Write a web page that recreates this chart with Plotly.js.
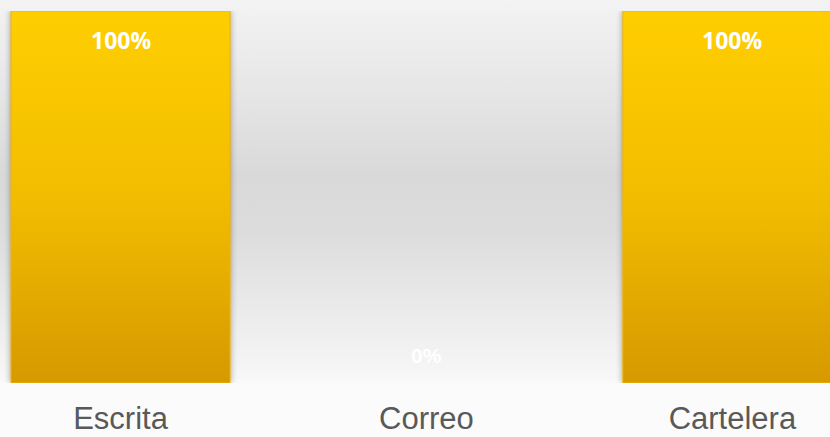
<!DOCTYPE html>
<html>
<head>
<meta charset="utf-8">
<script src="https://cdn.plot.ly/plotly-3.0.1.min.js"></script>
<style>
  html, body { margin: 0; padding: 0; }
  body {
    width: 830px; height: 437px; overflow: hidden;
    background: linear-gradient(to bottom, #f3f3f3 0px, #ebebeb 60px, #d9d9d9 175px, #dcdcdc 230px, #f7f7f7 378px, #fbfbfb 384px, #fbfbfb 437px);
  }
  #chart { width: 830px; height: 437px; }
</style>
</head>
<body>
<div id="chart"></div>
<script>
const categories = ["Escrita", "Correo", "Cartelera"];
const values = [100, 0, 100];
const valueLabels = ["100%", "0%", "100%"];

const trace = {
  type: "bar",
  x: categories,
  y: values,
  width: 0.716,
  marker: {
    color: "#f0b800",
    line: { color: "#f5b400", width: values.map(v => (v > 0 ? 1 : 0)) }
  },
  hoverinfo: "none"
};

const annotations = categories.map((c, i) => {
  const positive = values[i] > 0;
  return {
    x: c, y: values[i], xref: "x", yref: "y",
    text: "<b>" + valueLabels[i] + "</b>",
    showarrow: false,
    yshift: positive ? -29 : 28,
    font: positive
      ? { family: "Open Sans, sans-serif", size: 23, color: "#ffffff" }
      : { family: "Liberation Sans, Arial, sans-serif", size: 21, color: "#ffffff" }
  };
});

const layout = {
  width: 830, height: 437,
  margin: { l: 0, r: 0, t: 11, b: 54, pad: 0 },
  paper_bgcolor: "rgba(0,0,0,0)",
  plot_bgcolor: "rgba(0,0,0,0)",
  showlegend: false,
  xaxis: {
    type: "category",
    categoryorder: "array", categoryarray: categories,
    range: [-0.394, 2.319],
    showgrid: false, zeroline: false, showline: false, ticks: "",
    tickfont: { family: "Liberation Sans, Arial, sans-serif", size: 31, color: "#595959" },
    ticklabelstandoff: 14
  },
  yaxis: { range: [0, 100], visible: false, showgrid: false, zeroline: false },
  annotations: annotations
};

Plotly.newPlot("chart", [trace], layout, { staticPlot: true, displayModeBar: false }).then(gd => {
  const svg = gd.querySelector("svg.main-svg");
  const ns = "http://www.w3.org/2000/svg";
  let defs = svg.querySelector("defs");
  if (!defs) { defs = document.createElementNS(ns, "defs"); svg.insertBefore(defs, svg.firstChild); }
  const grad = document.createElementNS(ns, "linearGradient");
  grad.setAttribute("id", "barGrad");
  grad.setAttribute("x1", "0"); grad.setAttribute("y1", "0");
  grad.setAttribute("x2", "0"); grad.setAttribute("y2", "1");
  [["0", "#ffce00"], ["0.5", "#f2bd00"], ["1", "#d69900"]].forEach(([o, c]) => {
    const s = document.createElementNS(ns, "stop");
    s.setAttribute("offset", o); s.setAttribute("stop-color", c);
    grad.appendChild(s);
  });
  defs.appendChild(grad);
  gd.querySelectorAll(".barlayer .point path").forEach(p => {
    p.style.fill = "url(#barGrad)";
    p.style.filter = "drop-shadow(0px 0px 3px rgba(0,0,0,0.35))";
  });
});
</script>
</body>
</html>
